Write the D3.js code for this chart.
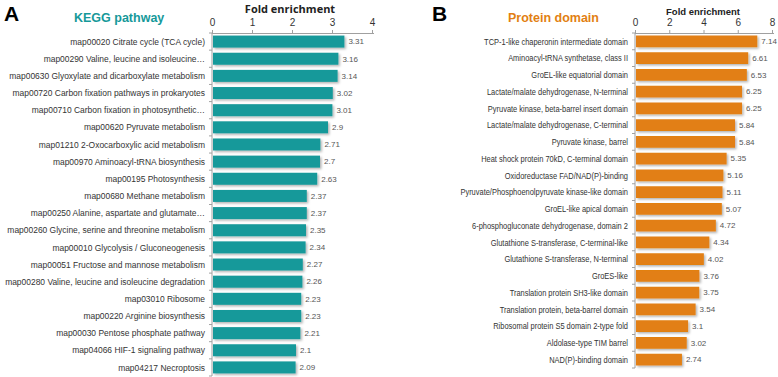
<!DOCTYPE html>
<html>
<head>
<meta charset="utf-8">
<script src="https://d3js.org/d3.v7.min.js"></script>
<style>
    body { margin: 0; background: #fff; }
    .cat { font-family: "Liberation Sans", Arial, sans-serif; fill: #333; }
    .val { font-family: "Liberation Sans", Arial, sans-serif; font-size: 8px; fill: #555; }
    .tick text { font-family: "Liberation Sans", Arial, sans-serif; font-size: 10px; fill: #333; }
    .domain, .tick line { stroke: #a0a0a0; }
</style>
</head>
<body>
<svg id="chart" width="778" height="377"></svg>
<script>
// KEGG pathway data
const keggNames = [
    "map00020 Citrate cycle (TCA cycle)",
    "map00290 Valine, leucine and isoleucine…",
    "map00630 Glyoxylate and dicarboxylate metabolism",
    "map00720 Carbon fixation pathways in prokaryotes",
    "map00710 Carbon fixation in photosynthetic…",
    "map00620 Pyruvate metabolism",
    "map01210 2-Oxocarboxylic acid metabolism",
    "map00970 Aminoacyl-tRNA biosynthesis",
    "map00195 Photosynthesis",
    "map00680 Methane metabolism",
    "map00250 Alanine, aspartate and glutamate…",
    "map00260 Glycine, serine and threonine metabolism",
    "map00010 Glycolysis / Gluconeogenesis",
    "map00051 Fructose and mannose metabolism",
    "map00280 Valine, leucine and isoleucine degradation",
    "map03010 Ribosome",
    "map00220 Arginine biosynthesis",
    "map00030 Pentose phosphate pathway",
    "map04066 HIF-1 signaling pathway",
    "map04217 Necroptosis"
];
const keggValues = [3.31, 3.16, 3.14, 3.02, 3.01, 2.9, 2.71, 2.7, 2.63, 2.37, 2.37, 2.35, 2.34, 2.27, 2.26, 2.23, 2.23, 2.21, 2.1, 2.09];
const keggTicks = [0, 1, 2, 3, 4];

// Protein domain data
const domainNames = [
    "TCP-1-like chaperonin intermediate domain",
    "Aminoacyl-tRNA synthetase, class II",
    "GroEL-like equatorial domain",
    "Lactate/malate dehydrogenase, N-terminal",
    "Pyruvate kinase, beta-barrel insert domain",
    "Lactate/malate dehydrogenase, C-terminal",
    "Pyruvate kinase, barrel",
    "Heat shock protein 70kD, C-terminal domain",
    "Oxidoreductase FAD/NAD(P)-binding",
    "Pyruvate/Phosphoenolpyruvate kinase-like domain",
    "GroEL-like apical domain",
    "6-phosphogluconate dehydrogenase, domain 2",
    "Glutathione S-transferase, C-terminal-like",
    "Glutathione S-transferase, N-terminal",
    "GroES-like",
    "Translation protein SH3-like domain",
    "Translation protein, beta-barrel domain",
    "Ribosomal protein S5 domain 2-type fold",
    "Aldolase-type TIM barrel",
    "NAD(P)-binding domain"
];
const domainValues = [7.14, 6.61, 6.53, 6.25, 6.25, 5.84, 5.84, 5.35, 5.16, 5.11, 5.07, 4.72, 4.34, 4.02, 3.76, 3.75, 3.54, 3.1, 3.02, 2.74];
const domainTicks = [0, 2, 4, 6, 8];

const svg = d3.select("#chart");

// soft drop shadow behind the bars
const defs = svg.append("defs");
const f = defs.append("filter").attr("id", "shadow").attr("x", "-5%").attr("y", "-20%").attr("width", "120%").attr("height", "160%");
f.append("feDropShadow").attr("dx", 1.5).attr("dy", 1.5).attr("stdDeviation", 0.8)
    .attr("flood-color", "#000").attr("flood-opacity", 0.3);

function panel(opt) {
    const names = opt.names, values = opt.values;
    const x = d3.scaleLinear().domain([0, opt.max]).range([opt.x0, opt.x1]);
    const y = d3.scaleBand().domain(names).range([opt.y0, opt.y1]).paddingInner(0.3).paddingOuter(0.15);
    const g = svg.append("g");

    // top axis
    g.append("g")
        .attr("transform", `translate(0,${opt.y0})`)
        .call(d3.axisTop(x).tickValues(opt.ticks).tickFormat(d3.format("d")).tickSize(3).tickPadding(4))
        .call(a => a.select(".domain").attr("d", `M${opt.x0},0.5H${opt.x1 + 2}`));

    // left axis with tick marks between categories
    const la = g.append("g");
    la.append("line")
        .attr("x1", opt.x0).attr("x2", opt.x0)
        .attr("y1", opt.y0).attr("y2", opt.y1)
        .attr("stroke", "#a0a0a0");
    la.selectAll("line.sep")
        .data(d3.range(names.length + 1))
        .join("line")
        .attr("class", "sep")
        .attr("x1", opt.x0 - 3).attr("x2", opt.x0)
        .attr("y1", i => opt.y0 + i * y.step()).attr("y2", i => opt.y0 + i * y.step())
        .attr("stroke", "#a0a0a0");

    // bars
    g.selectAll("rect.bar")
        .data(names)
        .join("rect")
        .attr("class", "bar")
        .attr("x", x(0) + 1)
        .attr("y", d => y(d))
        .attr("width", (d, i) => x(values[i]) - x(0) - 1)
        .attr("height", y.bandwidth())
        .attr("fill", opt.color)
        .attr("filter", "url(#shadow)");

    // value labels
    g.selectAll("text.val")
        .data(names)
        .join("text")
        .attr("class", "val")
        .attr("x", (d, i) => x(values[i]) + 4)
        .attr("y", d => y(d) + y.bandwidth() / 2)
        .attr("dy", "0.35em")
        .text((d, i) => values[i]);

    // category labels (slightly condensed like the original)
    g.selectAll("text.cat")
        .data(names)
        .join("text")
        .attr("class", "cat")
        .attr("font-size", opt.catSize)
        .attr("transform", d => `translate(${opt.x0 - 7},${y(d) + y.bandwidth() / 2}) scale(${opt.catScale},1)`)
        .attr("dy", "0.35em")
        .attr("text-anchor", "end")
        .text(d => d);

    // axis title
    g.append("text")
        .attr("x", opt.titleX)
        .attr("y", opt.titleY)
        .attr("text-anchor", "middle")
        .attr("font-family", opt.titleFont)
        .attr("font-weight", "bold")
        .attr("font-size", opt.titleSize)
        .attr("fill", "#222")
        .text("Fold enrichment");

    // panel letter
    g.append("text")
        .attr("x", opt.letterX).attr("y", opt.letterY)
        .attr("font-family", "'Liberation Sans', Arial, sans-serif")
        .attr("font-weight", "bold")
        .attr("font-size", 21)
        .attr("fill", "#000")
        .text(opt.letter);

    // panel heading
    g.append("text")
        .attr("x", opt.headX).attr("y", 22)
        .attr("font-family", "'Liberation Sans', Arial, sans-serif")
        .attr("font-weight", "bold")
        .attr("font-size", 12.5)
        .attr("fill", opt.color)
        .text(opt.heading);
}

panel({
    names: keggNames, values: keggValues, ticks: keggTicks, max: 4,
    x0: 212, x1: 372, y0: 33, y1: 376, catSize: 9, catScale: 0.94,
    color: "#16999a", letter: "A", letterX: 4, letterY: 21,
    heading: "KEGG pathway", headX: 74,
    titleX: 290, titleY: 13, titleSize: 11, titleFont: "'Open Sans', sans-serif"
});

panel({
    names: domainNames, values: domainValues, ticks: domainTicks, max: 8,
    x0: 635, x1: 772, y0: 33, y1: 368, catSize: 8.9, catScale: 0.84,
    color: "#e27f12", letter: "B", letterX: 432, letterY: 21,
    heading: "Protein domain", headX: 508,
    titleX: 703, titleY: 15, titleSize: 9.5, titleFont: "'Liberation Sans', Arial, sans-serif"
});
</script>
</body>
</html>
